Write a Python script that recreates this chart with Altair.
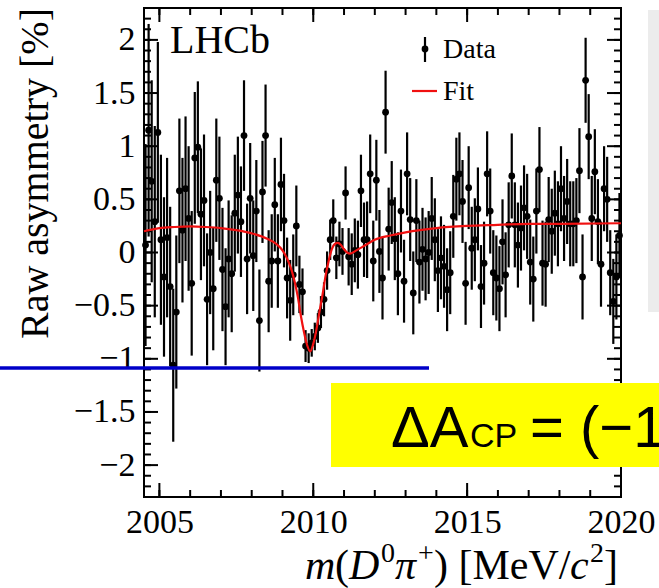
import altair as alt
import pandas as pd

# ---------------- data ----------------
mass = [
    2004.55, 2004.65, 2004.75, 2004.85, 2004.95, 2005.05, 2005.15, 2005.25, 2005.35, 2005.45,
    2005.55, 2005.65, 2005.75, 2005.85, 2005.95, 2006.05, 2006.15, 2006.25, 2006.35, 2006.45,
    2006.55, 2006.65, 2006.75, 2006.85, 2006.95, 2007.05, 2007.15, 2007.25, 2007.35, 2007.45,
    2007.55, 2007.65, 2007.75, 2007.85, 2007.95, 2008.05, 2008.15, 2008.25, 2008.35, 2008.45,
    2008.55, 2008.65, 2008.75, 2008.85, 2008.95, 2009.05, 2009.15, 2009.25, 2009.35, 2009.45,
    2009.55, 2009.65, 2009.75, 2009.85, 2009.95, 2010.05, 2010.15, 2010.25, 2010.35, 2010.45,
    2010.55, 2010.65, 2010.75, 2010.85, 2010.95, 2011.05, 2011.15, 2011.25, 2011.35, 2011.45,
    2011.55, 2011.65, 2011.75, 2011.85, 2011.95, 2012.05, 2012.15, 2012.25, 2012.35, 2012.45,
    2012.55, 2012.65, 2012.75, 2012.85, 2012.95, 2013.05, 2013.15, 2013.25, 2013.35, 2013.45,
    2013.55, 2013.65, 2013.75, 2013.85, 2013.95, 2014.05, 2014.15, 2014.25, 2014.35, 2014.45,
    2014.55, 2014.65, 2014.75, 2014.85, 2014.95, 2015.05, 2015.15, 2015.25, 2015.35, 2015.45,
    2015.55, 2015.65, 2015.75, 2015.85, 2015.95, 2016.05, 2016.15, 2016.25, 2016.35, 2016.45,
    2016.55, 2016.65, 2016.75, 2016.85, 2016.95, 2017.05, 2017.15, 2017.25, 2017.35, 2017.45,
    2017.55, 2017.65, 2017.75, 2017.85, 2017.95, 2018.05, 2018.15, 2018.25, 2018.35, 2018.45,
    2018.55, 2018.65, 2018.75, 2018.85, 2018.95, 2019.05, 2019.15, 2019.25, 2019.35, 2019.45,
    2019.55, 2019.65, 2019.75, 2019.85, 2019.95,
]
asym = [
    0.07, 1.15, 0.67, 0.29, 1.13, 0.12, -0.23, 0.14, -0.32, -1.06,
    -0.56, 0.58, 0.21, 0.60, 0.32, -0.29, 0.89, 0.99, 0.36, 0.49,
    -0.44, 0.00, -0.34, 0.68, 0.51, -0.16, -0.51, -0.06, -0.20, 0.37,
    0.54, 0.29, 1.10, -0.06, 0.51, -0.03, 0.39, -0.64, 0.57, 1.10,
    -0.27, -0.08, 0.45, -0.08, 0.64, 0.30, -0.24, -0.45, -0.21, 0.25,
    -0.30, -0.37, -0.88, -0.90, -0.85, -0.79, -0.71, -0.56, -0.44, -0.17,
    0.12, 0.30, -0.05, 0.08, 0.01, 0.56, -0.04, -0.11, 0.02, -0.02,
    0.58, 0.12, 0.12, 0.74, -0.08, 0.68, 0.01, -0.24, 1.32, 0.22,
    0.47, 0.13, -0.20, 0.39, -0.27, 0.74, 0.31, -0.38, 0.30, -0.09,
    0.03, -0.06, 0.00, 0.32, 0.12, -0.17, -0.05, -0.13, -0.35, -0.19,
    0.34, 0.69, 0.74, 0.48, -0.29, 0.61, 0.04, 0.12, 0.41, -0.32,
    -0.10, 0.74, 0.39, -0.19, -0.24, -0.34, 0.10, -0.21, 0.26, 0.72,
    0.26, 0.07, 0.23, 0.42, 0.34, -0.09, -0.25, 0.39, 0.78, -0.10,
    -0.11, 0.31, 0.20, 0.37, 0.27, 0.60, 0.32, 0.48, 0.27, 0.27,
    0.30, 0.77, -0.23, 1.62, 1.09, 0.32, 0.76, 0.29, -0.11, 0.60,
    0.50, -0.19, -0.46, -0.23, 0.16,
]
err = [
    0.95, 1.00, 0.95, 0.90, 0.85, 0.80, 0.75, 0.75, 0.75, 0.72,
    0.72, 0.68, 0.68, 0.68, 0.68, 0.68, 0.62, 0.62, 0.62, 0.62,
    0.62, 0.58, 0.58, 0.58, 0.58, 0.58, 0.55, 0.55, 0.55, 0.55,
    0.55, 0.52, 0.52, 0.52, 0.52, 0.52, 0.48, 0.48, 0.48, 0.48,
    0.48, 0.44, 0.44, 0.44, 0.44, 0.44, 0.38, 0.38, 0.38, 0.38,
    0.27, 0.22, 0.15, 0.14, 0.13, 0.13, 0.14, 0.15, 0.16, 0.18,
    0.19, 0.20, 0.20, 0.21, 0.22, 0.25, 0.27, 0.29, 0.30, 0.32,
    0.34, 0.35, 0.36, 0.37, 0.38, 0.38, 0.39, 0.39, 0.39, 0.39,
    0.39, 0.39, 0.39, 0.39, 0.39, 0.39, 0.39, 0.39, 0.39, 0.39,
    0.39, 0.39, 0.39, 0.39, 0.39, 0.39, 0.39, 0.39, 0.39, 0.39,
    0.39, 0.39, 0.39, 0.39, 0.39, 0.39, 0.39, 0.39, 0.39, 0.39,
    0.39, 0.40, 0.40, 0.40, 0.40, 0.40, 0.40, 0.40, 0.40, 0.40,
    0.40, 0.40, 0.40, 0.40, 0.40, 0.40, 0.40, 0.40, 0.40, 0.40,
    0.40, 0.40, 0.40, 0.40, 0.40, 0.40, 0.40, 0.40, 0.40, 0.40,
    0.40, 0.40, 0.40, 0.40, 0.40, 0.40, 0.40, 0.40, 0.40, 0.40,
    0.40, 0.40, 0.40, 0.40, 0.40,
]

fit_mass = [2004.5, 2005.0, 2005.5, 2006.0, 2006.5, 2007.0, 2007.5, 2008.0, 2008.5, 2008.8,
            2009.0, 2009.2, 2009.3, 2009.4, 2009.5, 2009.6, 2009.7, 2009.8, 2009.9, 2010.0,
            2010.1, 2010.2, 2010.3, 2010.4, 2010.5, 2010.6, 2010.7, 2010.8, 2010.9, 2011.0,
            2011.1, 2011.2, 2011.4, 2011.7, 2012.0, 2012.5, 2013.0, 2014.0, 2015.0, 2016.0,
            2017.0, 2018.0, 2020.0]
fit_val = [0.20, 0.23, 0.24, 0.245, 0.24, 0.23, 0.21, 0.18, 0.13, 0.08,
           0.02, -0.09, -0.17, -0.28, -0.42, -0.60, -0.75, -0.87, -0.93, -0.86,
           -0.73, -0.56, -0.40, -0.22, -0.08, 0.03, 0.08, 0.09, 0.07, 0.03,
           0.00, -0.01, 0.02, 0.07, 0.12, 0.16, 0.19, 0.23, 0.25, 0.26,
           0.27, 0.27, 0.275]

x_major = [2005, 2010, 2015, 2020]
x_minor = [2005, 2006, 2007, 2008, 2009, 2010, 2011, 2012, 2013, 2014, 2015, 2016, 2017, 2018, 2019, 2020]
y_major = [-2, -1.5, -1, -0.5, 0, 0.5, 1, 1.5, 2]
y_minor = [-2.2, -2.1, -2.0, -1.9, -1.8, -1.7, -1.6, -1.5, -1.4, -1.3, -1.2, -1.1, -1.0,
           -0.9, -0.8, -0.7, -0.6, -0.5, -0.4, -0.3, -0.2, -0.1, 0.0, 0.1, 0.2, 0.3, 0.4,
           0.5, 0.6, 0.7, 0.8, 0.9, 1.0, 1.1, 1.2, 1.3, 1.4, 1.5, 1.6, 1.7, 1.8, 1.9, 2.0,
           2.1, 2.2]

# ---------------- layout ----------------
W, H = 477, 489
PL, PT = 144, 8
SERIF = "Liberation Serif"
SANS = "Liberation Sans"

xs = alt.Scale(domain=[2004.5, 2020], nice=False, zero=False)
ys = alt.Scale(domain=[-2.3, 2.3], nice=False, zero=False)

df = pd.DataFrame({"m": mass, "a": asym, "e": err})
df["lo"] = df["a"] - df["e"]
df["hi"] = df["a"] + df["e"]
fit = pd.DataFrame({"m": fit_mass, "a": fit_val})

one = pd.DataFrame({"k": [0]})


def txt(text, x, y, size, font=SERIF, style="normal", align="left", angle=0,
        color="black", baseline="alphabetic"):
    return alt.Chart(pd.DataFrame({"t": [text]})).mark_text(
        align=align, baseline=baseline, font=font, fontSize=size,
        fontStyle=style, angle=angle, color=color
    ).encode(text="t:N", x=alt.value(x), y=alt.value(y))


x_axis = alt.Axis(values=x_major, format="d", labelFont=SERIF, labelFontSize=34,
                  labelColor="black", labelPadding=8, ticks=False, domain=False,
                  grid=False, title=None, labelFlush=False)
y_axis = alt.Axis(values=y_major, labelFont=SERIF, labelFontSize=34,
                  labelColor="black", labelPadding=9, ticks=False, domain=False,
                  grid=False, title=None, labelFlush=False,
                  labelExpr="replace(format(datum.value, '~g'), '-', '\u2212')")

XE = dict(scale=xs, axis=x_axis)
YE = dict(scale=ys, axis=y_axis)

frame = alt.Chart(one).mark_rect(fillOpacity=0, stroke="black", strokeWidth=2).encode(
    x=alt.value(0), x2=alt.value(W), y=alt.value(0), y2=alt.value(H))

xv = lambda vals: pd.DataFrame({"v": vals})
tick_layers = []
for vals, ln in [(x_minor, 7), (x_major, 14)]:
    tick_layers.append(alt.Chart(xv(vals)).mark_rule(color="black", strokeWidth=2).encode(
        x=alt.X("v:Q", **XE), y=alt.value(H), y2=alt.value(H - ln)))
    tick_layers.append(alt.Chart(xv(vals)).mark_rule(color="black", strokeWidth=2).encode(
        x=alt.X("v:Q", **XE), y=alt.value(0), y2=alt.value(ln)))
for vals, ln in [(y_minor, 7), (y_major, 14)]:
    tick_layers.append(alt.Chart(xv(vals)).mark_rule(color="black", strokeWidth=2).encode(
        y=alt.Y("v:Q", **YE), x=alt.value(0), x2=alt.value(ln)))
    tick_layers.append(alt.Chart(xv(vals)).mark_rule(color="black", strokeWidth=2).encode(
        y=alt.Y("v:Q", **YE), x=alt.value(W), x2=alt.value(W - ln)))

bars = alt.Chart(df).mark_rule(color="black", strokeWidth=2.2).encode(
    x=alt.X("m:Q", **XE), y=alt.Y("lo:Q", **YE), y2="hi:Q")
pts = alt.Chart(df).mark_circle(color="black", size=46, opacity=1).encode(
    x=alt.X("m:Q", **XE), y=alt.Y("a:Q", **YE))
fitline = alt.Chart(fit).mark_line(color="#f01010", strokeWidth=2.2, interpolate="monotone").encode(
    x=alt.X("m:Q", **XE), y=alt.Y("a:Q", **YE))

# legend
leg_bar = alt.Chart(one).mark_rule(color="black", strokeWidth=2.2).encode(
    x=alt.value(281), y=alt.value(29), y2=alt.value(54))
leg_pt = alt.Chart(one).mark_circle(color="black", size=46, opacity=1).encode(
    x=alt.value(281), y=alt.value(41))
leg_fit = alt.Chart(one).mark_rule(color="#f01010", strokeWidth=2.2).encode(
    x=alt.value(268), x2=alt.value(293), y=alt.value(83))
t_data = txt("Data", 299, 50, 28)
t_fit = txt("Fit", 299, 92, 28)
t_lhcb = txt("LHCb", 26, 45, 40)

# axis titles
ytitle = txt("Raw asymmetry [%]", -96, 0, 40, align="right", angle=270)
XB = 571
FS, SS = 42, 28
xt = [
    txt("m", 161, XB, FS, style="italic"),
    txt("(", 191, XB, FS),
    txt("D", 205, XB, FS, style="italic"),
    txt("0", 237, XB - 17, SS),
    txt("\u03c0", 251, XB, FS, style="italic"),
    txt("+", 274, XB - 17, SS),
    txt(") [MeV/", 290, XB, FS),
    txt("c", 426, XB, FS, style="italic"),
    txt("2", 446, XB - 17, SS),
    txt("]", 460, XB, FS),
]

# slide overlays
blue = alt.Chart(one).mark_rule(color="#0000c8", strokeWidth=3.5).encode(
    x=alt.value(-PL), x2=alt.value(285), y=alt.value(360))
yellow = alt.Chart(one).mark_rect(color="#ffff00").encode(
    x=alt.value(187), x2=alt.value(530), y=alt.value(375), y2=alt.value(459))
gray = alt.Chart(one).mark_rect(color="#ececec").encode(
    x=alt.value(504), x2=alt.value(530), y=alt.value(2), y2=alt.value(304))
t_da = txt("\u0394A", 247, 439, 58, font=SANS)
t_cp = txt("CP", 326, 439, 34, font=SANS)
t_eq = txt("= (\u22121", 386, 439, 58, font=SANS)

chart = alt.layer(
    bars, frame, *tick_layers, pts, fitline,
    leg_bar, leg_pt, leg_fit, t_data, t_fit, t_lhcb,
    ytitle, *xt,
    blue, gray, yellow, t_da, t_cp, t_eq,
).properties(
    width=W, height=H,
    padding={"left": PL, "top": PT, "right": 659 - PL - W, "bottom": 588 - PT - H},
    autosize="none",
    background="white",
).configure_view(stroke=None)

chart.save("out.html", embed_options={"renderer": "svg", "actions": False})
